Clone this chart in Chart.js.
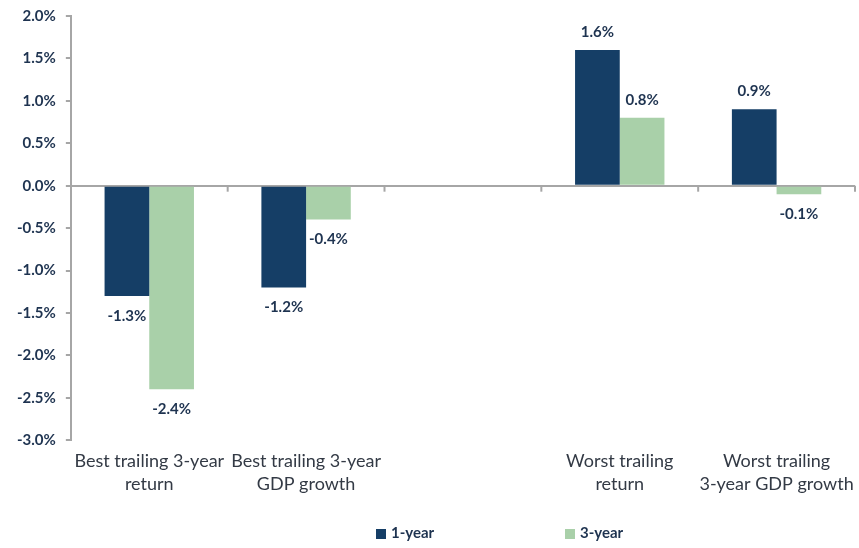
<!DOCTYPE html>
<html>
<head>
<meta charset="utf-8">
<script src="https://cdn.jsdelivr.net/npm/chart.js@4.4.0/dist/chart.umd.min.js"></script>
<style>
  html, body { margin: 0; padding: 0; background: #fff; }
  #wrap { position: relative; width: 859px; height: 548px; }
  #legend { position: absolute; left: 0; top: 522px; width: 859px; height: 20px;
            font: bold 15px Lato, sans-serif; color: #1e3350; }
  #legend span { position: absolute; top: 0; line-height: 20px; }
  #legend i { display: inline-block; width: 10px; height: 10px; margin-right: 5px; vertical-align: -1px; }
</style>
</head>
<body>
<div id="wrap">
  <canvas id="chart"></canvas>
  <div id="legend"></div>
</div>
<script>
// ── Data ──────────────────────────────────────────────────────────────────
const categories = [
    ['Best trailing 3-year', 'return'],
    ['Best trailing 3-year', 'GDP growth'],
    '',
    ['Worst trailing', 'return'],
    ['Worst trailing', '3-year GDP growth']
];
const oneYear   = [-1.3, -1.2, null, 1.6, 0.9];
const threeYear = [-2.4, -0.4, null, 0.8, -0.1];
const seriesNames = ['1-year', '3-year'];
const yTicks = { min: -3.0, max: 2.0, step: 0.5 };

const NAVY = '#153e66';
const GREEN = '#a9d0a9';
const AXIS = '#a6a6a6';
const TEXT = '#1e3350';

// ── Value labels above / below each bar ──────────────────────────────────
const valueLabels = {
    id: 'valueLabels',
    afterDatasetsDraw(chart) {
        const ctx = chart.ctx;
        ctx.save();
        ctx.font = 'bold 15px Lato, sans-serif';
        ctx.fillStyle = TEXT;
        ctx.textAlign = 'center';
        ctx.textBaseline = 'middle';
        chart.data.datasets.forEach((ds, di) => {
            chart.getDatasetMeta(di).data.forEach((el, i) => {
                const v = ds.data[i];
                if (v === null || v === undefined) return;
                const y = v >= 0 ? el.y - 18 : el.y + 20;
                ctx.fillText(v.toFixed(1) + '%', el.x, y);
            });
        });
        ctx.restore();
    }
};

// ── Category tick marks on the zero line ─────────────────────────────────
const zeroTicks = {
    id: 'zeroTicks',
    afterDraw(chart) {
        const x = chart.scales.x, y = chart.scales.y;
        const y0 = y.getPixelForValue(0);
        const n = chart.data.labels.length;
        const step = x.getPixelForValue(1) - x.getPixelForValue(0);
        const ctx = chart.ctx;
        ctx.save();
        ctx.strokeStyle = AXIS;
        ctx.lineWidth = 2;
        for (let i = 1; i <= n; i++) {
            const px = x.getPixelForValue(0) - step / 2 + i * step;
            ctx.beginPath();
            ctx.moveTo(px, y0);
            ctx.lineTo(px, y0 + 6);
            ctx.stroke();
        }
        ctx.restore();
    }
};

new Chart(document.getElementById('chart').getContext('2d'), {
    type: 'bar',
    data: {
        labels: categories,
        datasets: [
            { label: seriesNames[0], data: oneYear, backgroundColor: NAVY },
            { label: seriesNames[1], data: threeYear, backgroundColor: GREEN }
        ]
    },
    options: {
        responsive: true,
        maintainAspectRatio: false,
        animation: false,
        layout: { padding: { left: 7, right: 4, top: 0, bottom: 51 } },
        datasets: { bar: { categoryPercentage: 0.57, barPercentage: 1.0 } },
        plugins: {
            legend: { display: false },
            tooltip: { enabled: false }
        },
        scales: {
            x: {
                grid: { display: false },
                border: { display: false },
                ticks: {
                    color: '#333a45',
                    font: { family: 'Lato, sans-serif', size: 18, lineHeight: 1.3 },
                    maxRotation: 0,
                    autoSkip: false,
                    padding: 1
                }
            },
            y: {
                min: yTicks.min,
                max: yTicks.max,
                border: { display: true, color: AXIS, width: 2 },
                grid: {
                    color: c => c.tick && c.tick.value === 0 ? AXIS : 'transparent',
                    tickColor: AXIS,
                    lineWidth: 2,
                    tickLength: 5
                },
                ticks: {
                    stepSize: yTicks.step,
                    color: TEXT,
                    padding: 10,
                    font: { family: 'Lato, sans-serif', size: 15, weight: 'bold', lineHeight: 0.8 },
                    callback: v => v.toFixed(1) + '%'
                }
            }
        }
    },
    plugins: [valueLabels, zeroTicks]
});

// ── Legend ───────────────────────────────────────────────────────────────
const legendPos = [376, 565];
document.getElementById('legend').innerHTML = seriesNames.map((n, i) =>
    `<span style="left:${legendPos[i]}px"><i style="background:${i ? GREEN : NAVY}"></i>${n}</span>`
).join('');
</script>
</body>
</html>
